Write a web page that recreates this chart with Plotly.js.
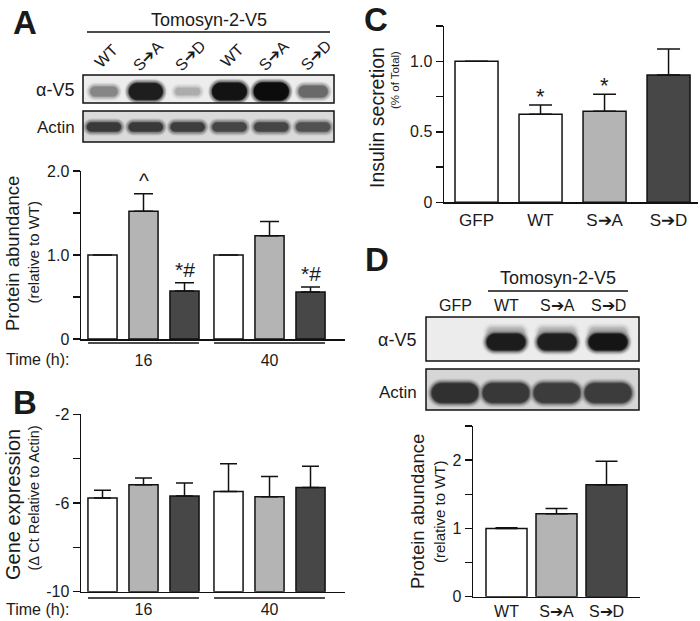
<!DOCTYPE html>
<html><head><meta charset="utf-8">
<script src="https://cdn.plot.ly/plotly-3.0.1.min.js"></script>
<style>html,body{margin:0;padding:0;background:#fff}#chart{width:700px;height:621px}</style>
</head><body><div id="chart"></div>
<script>
// ================= DATA =================
const timeLabels = ['16', '40'];
const seriesNames = ['WT', 'S➔A', 'S➔D'];

// Panel A: protein abundance (relative to WT)
const protWT = [1.00, 1.00];
const protWTErr = [0, 0];
const protSA = [1.52, 1.23];
const protSAErr = [0.21, 0.17];
const protSD = [0.57, 0.56];
const protSDErr = [0.10, 0.06];
const sigWT = ['', ''];
const sigSA = ['^', ''];
const sigSD = ['*#', '*#'];

// Panel B: gene expression (delta Ct relative to actin)
const geneWT = [-5.78, -5.48];
const geneWTErr = [0.36, 1.25];
const geneSA = [-5.18, -5.72];
const geneSAErr = [0.31, 0.92];
const geneSD = [-5.68, -5.30];
const geneSDErr = [0.58, 0.96];
const geneBase = -10;

// Panel C: insulin secretion (% of total)
const insCats = ['GFP', 'WT', 'S➔A', 'S➔D'];
const insVals = [1.00, 0.624, 0.645, 0.903];
const insErr = [0, 0.066, 0.121, 0.184];
const insSig = ['', '*', '*', ''];

// Panel D: protein abundance (relative to WT)
const dCats = ['WT', 'S➔A', 'S➔D'];
const dVals = [1.00, 1.216, 1.64];
const dErr = [0.01, 0.075, 0.345];

// Tick values / labels
const yTicksA = [0, 0.5, 1, 1.5, 2];
const yTickTextA = ['0', '', '1.0', '', '2.0'];
const yTicksB = [-10, -8, -6, -4, -2];
const yTickTextB = ['-10', '', '-6', '', '-2'];
const yTicksC = [0, 0.25, 0.5, 0.75, 1, 1.25];
const yTickTextC = ['0', '', '0.5', '', '1.0', ''];
const yTicksD = [0, 0.5, 1, 1.5, 2, 2.5];
const yTickTextD = ['0', '', '1', '', '2', ''];

// Blot lanes and relative band intensities (0..1)
const blotALanes = ['WT', 'S➔A', 'S➔D', 'WT', 'S➔A', 'S➔D'];
const blotAV5 = [0.45, 0.92, 0.28, 0.97, 1.0, 0.58];
const blotAActin = [0.78, 0.78, 0.76, 0.72, 0.72, 0.66];
const blotDLanes = ['GFP', 'WT', 'S➔A', 'S➔D'];
const blotDV5 = [0, 0.93, 0.92, 0.96];
const blotDActin = [0.82, 0.78, 0.76, 0.76];

// ================= STYLE / GEOMETRY =================
const W = 700, H = 621;
const px = x => x / W;
const py = y => 1 - y / H;
const FONT = 'Liberation Sans, Arial, Helvetica, sans-serif';
const TXT = '#1a1a1a';
const fills = ['#ffffff', '#b4b4b4', '#474747'];

// ---- blot rendering onto canvas ----
function capsule(ctx, cx, cy, w, h) {
  const r = Math.min(h / 2, w / 2);
  ctx.beginPath();
  ctx.moveTo(cx - w / 2 + r, cy - h / 2);
  ctx.lineTo(cx + w / 2 - r, cy - h / 2);
  ctx.arc(cx + w / 2 - r, cy, r, -Math.PI / 2, Math.PI / 2);
  ctx.lineTo(cx - w / 2 + r, cy + h / 2);
  ctx.arc(cx - w / 2 + r, cy, r, Math.PI / 2, 3 * Math.PI / 2);
  ctx.closePath();
  ctx.fill();
}
function makeBlot(w, h, bg, bands, blur) {
  const S = 3;
  const c = document.createElement('canvas');
  c.width = w * S; c.height = h * S;
  const ctx = c.getContext('2d');
  ctx.scale(S, S);
  ctx.fillStyle = bg;
  ctx.fillRect(0, 0, w, h);
  bands.forEach(b => {
    if (b.v <= 0) return;
    const g = Math.round(b.g0 - (b.g0 - 12) * b.v);
    const gh = Math.round(b.g0 - (b.g0 - 12) * b.v * 0.45);
    ctx.filter = 'blur(' + (blur * 1.6) + 'px)';
    ctx.fillStyle = 'rgb(' + gh + ',' + gh + ',' + gh + ')';
    capsule(ctx, b.cx, b.cy, b.w + 5, b.h + 5);
    ctx.filter = 'blur(' + blur + 'px)';
    ctx.fillStyle = 'rgb(' + g + ',' + g + ',' + g + ')';
    capsule(ctx, b.cx, b.cy, b.w, b.h);
  });
  return c.toDataURL('image/png');
}

const images = [];
const shapes = [];
const annotations = [];

function ann(text, x, y, size, opts) {
  annotations.push(Object.assign({
    text: text, xref: 'paper', yref: 'paper', x: px(x), y: py(y),
    xanchor: 'center', yanchor: 'middle', showarrow: false,
    font: {family: FONT, size: size, color: TXT}
  }, opts || {}));
}
function box(l, t, r, b) {
  shapes.push({type: 'rect', xref: 'paper', yref: 'paper', x0: px(l), x1: px(r), y0: py(t), y1: py(b),
    line: {color: '#111', width: 1.5}, fillcolor: 'rgba(0,0,0,0)'});
}
function hline(x0, x1, y, xref) {
  shapes.push({type: 'line', xref: xref || 'paper', yref: 'paper',
    x0: xref ? x0 : px(x0), x1: xref ? x1 : px(x1), y0: py(y), y1: py(y),
    line: {color: '#111', width: 1.3}});
}
function placeImage(src, l, t, r, b) {
  images.push({source: src, xref: 'paper', yref: 'paper', x: px(l), y: py(t),
    sizex: (r - l) / W, sizey: (b - t) / H, xanchor: 'left', yanchor: 'top',
    sizing: 'stretch', layer: 'below'});
}

// ---- Panel A blots ----
const aL = 83, aR = 334, aV5T = 75, aV5B = 103, aAcT = 111, aAcB = 142;
const aPitch = (aR - aL) / blotALanes.length;
const aLaneX = blotALanes.map((_, i) => aL + (i + 0.5) * aPitch);
placeImage(makeBlot(aR - aL, aV5B - aV5T, '#ededed',
  blotAV5.map((v, i) => ({cx: aLaneX[i] - aL, cy: 16.5, w: 22 + 14 * v, h: 4 + 15 * v, v: v, g0: 234})), 1.6),
  aL, aV5T, aR, aV5B);
placeImage(makeBlot(aR - aL, aAcB - aAcT, '#dadada',
  blotAActin.map((v, i) => ({cx: aLaneX[i] - aL, cy: 16, w: 35, h: 10, v: v, g0: 216})), 1.6),
  aL, aAcT, aR, aAcB);
box(aL, aV5T, aR, aV5B);
box(aL, aAcT, aR, aAcB);
ann('Tomosyn-2-V5', 209, 20, 18);
hline(87, 330, 32);
blotALanes.forEach((lab, i) => ann(lab, aLaneX[i] + 3, 56, 16, {textangle: -45}));
ann('α-V5', 76, 90, 18, {xanchor: 'right'});
ann('Actin', 77, 127, 17, {xanchor: 'right'});

// ---- Panel D blots ----
const dL = 426, dR = 639, dV5T = 317, dV5B = 361, dAcT = 369, dAcB = 410;
const dLaneX = blotDLanes.map((_, i) => dL + 29 + i * 51);
const dV5Bands = [];
blotDV5.forEach((v, i) => {
  dV5Bands.push({cx: dLaneX[i] - dL, cy: 15, w: 38, h: 10, v: v * 0.25, g0: 234});
  dV5Bands.push({cx: dLaneX[i] - dL, cy: 25, w: 40, h: 18, v: v, g0: 234});
});
placeImage(makeBlot(dR - dL, dV5B - dV5T, '#ececec', dV5Bands, 2.0), dL, dV5T, dR, dV5B);
placeImage(makeBlot(dR - dL, dAcB - dAcT, '#d6d6d6',
  blotDActin.map((v, i) => ({cx: dLaneX[i] - dL, cy: 24, w: 48, h: 21, v: v, g0: 214})), 2.0),
  dL, dAcT, dR, dAcB);
box(dL, dV5T, dR, dV5B);
box(dL, dAcT, dR, dAcB);
ann('Tomosyn-2-V5', 558, 278, 18);
hline(488, 628, 291);
blotDLanes.forEach((lab, i) => ann(lab, dLaneX[i], 305, 16));
ann('α-V5', 418, 340, 18, {xanchor: 'right'});
ann('Actin', 419, 392, 17, {xanchor: 'right'});

// ---- Panel letters ----
ann('<b>A</b>', 25, 23, 33);
ann('<b>B</b>', 25, 402, 33);
ann('<b>C</b>', 376, 19, 33);
ann('<b>D</b>', 377, 259, 33);

// ---- y-axis titles ----
ann('Protein abundance', 12, 254, 18.5, {textangle: -90});
ann('(relative to WT)', 32.5, 252, 15, {textangle: -90});
ann('Gene expression', 13, 505, 20, {textangle: -90});
ann('(Δ Ct Relative to Actin)', 33.5, 498, 14.5, {textangle: -90});
ann('Insulin secretion', 377, 118, 19.5, {textangle: -90});
ann('(% of Total)', 395, 80, 11.5, {textangle: -90});
ann('Protein abundance', 417, 512, 18.5, {textangle: -90});
ann('(relative to WT)', 439, 512, 15, {textangle: -90});

// ---- Time labels & group underlines ----
ann('Time (h):', 71, 359, 16, {xanchor: 'right'});
ann('Time (h):', 71, 609, 16, {xanchor: 'right'});
timeLabels.forEach((t, i) => {
  hline(i - 0.44, i + 0.44, 343, 'x');
  hline(i - 0.44, i + 0.44, 598, 'x2');
});

// ================= TRACES =================
const BARGAP = 0.024, GROUPGAP = 0.29;
const slot = (1 - BARGAP) / 3;
function errObj(arr, w) {
  return {type: 'data', symmetric: false, array: arr, arrayminus: arr.map(() => 0),
    color: '#111', thickness: 1.5, width: w};
}
const traces = [];
const groupA = [[protWT, protWTErr, sigWT], [protSA, protSAErr, sigSA], [protSD, protSDErr, sigSD]];
groupA.forEach((g, k) => {
  traces.push({type: 'bar', name: seriesNames[k], x: timeLabels, y: g[0], xaxis: 'x', yaxis: 'y',
    marker: {color: fills[k], line: {color: '#111', width: 1.5}}, error_y: errObj(g[1], 9.5),
    hoverinfo: 'skip', showlegend: false});
  g[2].forEach((s, i) => {
    if (!s) return;
    annotations.push({text: s, xref: 'x', yref: 'y', x: i + (k - 1) * slot, y: g[0][i] + g[1][i],
      yanchor: 'bottom', xanchor: 'center', showarrow: false, yshift: 0,
      font: {family: FONT, size: 21, color: TXT}});
  });
});
const groupB = [[geneWT, geneWTErr], [geneSA, geneSAErr], [geneSD, geneSDErr]];
groupB.forEach((g, k) => {
  traces.push({type: 'bar', name: seriesNames[k], x: timeLabels, y: g[0].map(v => v - geneBase), base: geneBase,
    xaxis: 'x2', yaxis: 'y2', marker: {color: fills[k], line: {color: '#111', width: 1.5}},
    error_y: errObj(g[1], 8.5), hoverinfo: 'skip', showlegend: false});
});
traces.push({type: 'bar', x: insCats, y: insVals, xaxis: 'x3', yaxis: 'y3', width: 0.672,
  marker: {color: [fills[0], fills[0], fills[1], fills[2]], line: {color: '#111', width: 1.5}},
  error_y: errObj(insErr, 11.5), hoverinfo: 'skip', showlegend: false});
insSig.forEach((s, i) => {
  if (!s) return;
  annotations.push({text: s, xref: 'x3', yref: 'y3', x: insCats[i], y: insVals[i] + insErr[i],
    yanchor: 'bottom', xanchor: 'center', showarrow: false, yshift: -6,
    font: {family: FONT, size: 22, color: TXT}});
});
traces.push({type: 'bar', x: dCats, y: dVals, xaxis: 'x4', yaxis: 'y4', width: 0.82,
  marker: {color: fills, line: {color: '#111', width: 1.5}},
  error_y: errObj(dErr, 11), hoverinfo: 'skip', showlegend: false});

// ================= LAYOUT =================
function yax(domTop, domBot, range, tv, tt, anchor) {
  return {domain: [py(domBot), py(domTop)], range: range, anchor: anchor, showline: true,
    linecolor: '#111', linewidth: 1.5, ticks: 'outside', ticklen: 7, tickwidth: 1.5, tickcolor: '#111',
    tickvals: tv, ticktext: tt, showgrid: false, zeroline: false, fixedrange: true,
    tickfont: {family: FONT, size: 16, color: TXT}};
}
function xax(l, r, range, anchor, standoff, size) {
  return {domain: [px(l), px(r)], range: range, type: 'category', anchor: anchor, showline: true,
    linecolor: '#111', linewidth: 1.5, ticks: '', showgrid: false, zeroline: false, fixedrange: true,
    ticklabelstandoff: standoff, tickfont: {family: FONT, size: size, color: TXT}};
}
const layout = {
  width: W, height: H, margin: {l: 0, r: 0, t: 0, b: 0, pad: 0},
  paper_bgcolor: '#fff', plot_bgcolor: 'rgba(0,0,0,0)', showlegend: false,
  barmode: 'group', bargap: BARGAP, bargroupgap: GROUPGAP,
  font: {family: FONT, color: TXT},
  xaxis: xax(81, 345, [-0.496, 1.599], 'y', 6, 16),
  yaxis: yax(171, 339, [0, 2], yTicksA, yTickTextA, 'x'),
  xaxis2: xax(81, 345, [-0.496, 1.599], 'y2', 3, 16),
  yaxis2: yax(414.3, 591.7, [-10, -2], yTicksB, yTickTextB, 'x2'),
  xaxis3: xax(444, 698, [-0.508, 3.46], 'y3', 2, 17),
  yaxis3: yax(26, 202.3, [0, 1.25], yTicksC, yTickTextC, 'x3'),
  xaxis4: xax(473, 640, [-0.67, 2.67], 'y4', 0, 16),
  yaxis4: yax(426, 596.7, [0, 2.5], yTicksD, yTickTextD, 'x4'),
  shapes: shapes, annotations: annotations, images: images
};
Plotly.newPlot('chart', traces, layout, {staticPlot: true, displayModeBar: false});
</script></body></html>
